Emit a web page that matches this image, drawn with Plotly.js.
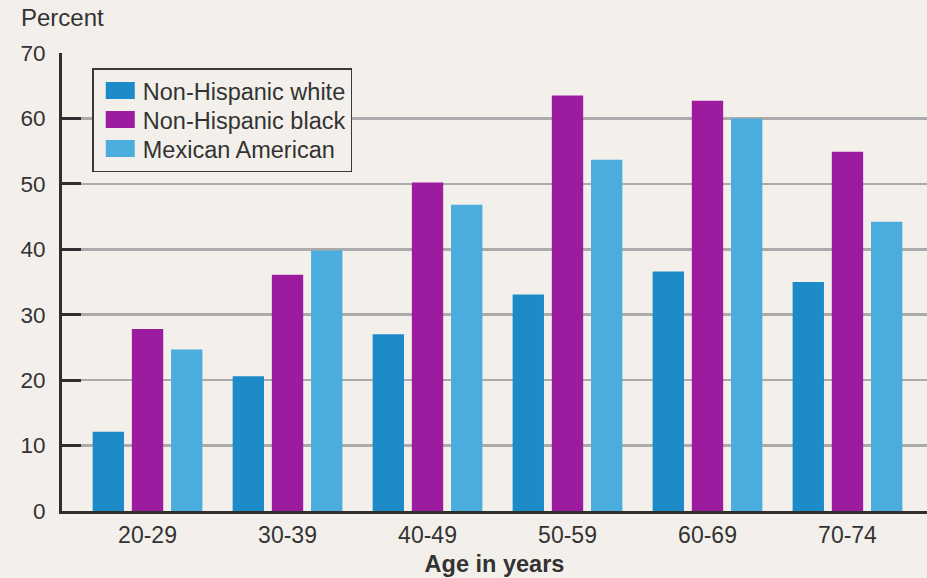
<!DOCTYPE html>
<html>
<head>
<meta charset="utf-8">
<script src="https://cdn.plot.ly/plotly-3.0.1.min.js"></script>
<style>html,body{margin:0;padding:0;background:#f3f0eb;}#chart{width:927px;height:578px;}</style>
</head>
<body>
<div id="chart"></div>
<script>
const categories = ["20-29", "30-39", "40-49", "50-59", "60-69", "70-74"];
const seriesNames = ["Non-Hispanic white", "Non-Hispanic black", "Mexican American"];
const whiteValues = [12.1, 20.6, 27.0, 33.1, 36.6, 35.0];
const blackValues = [27.8, 36.1, 50.2, 63.5, 62.7, 54.9];
const mexicanValues = [24.7, 39.8, 46.8, 53.7, 60.0, 44.2];
const yTicks = [0, 10, 20, 30, 40, 50, 60, 70];

const colors = ["#1e8bc9", "#9c1b9f", "#4badde"];
const allValues = [whiteValues, blackValues, mexicanValues];

const traces = allValues.map((vals, i) => ({
  type: "bar",
  name: seriesNames[i],
  x: categories,
  y: vals,
  marker: { color: colors[i], line: { width: 0 } },
  hoverinfo: "x+y+name"
}));

const font = "'Liberation Sans', Arial, Helvetica, sans-serif";

const layout = {
  width: 927,
  height: 578,
  paper_bgcolor: "#f3f0eb",
  plot_bgcolor: "#f3f0eb",
  margin: { l: 62, r: 0, t: 53, b: 67, pad: 0 },
  barmode: "group",
  bargap: 0.16,
  bargroupgap: 0.2,
  showlegend: true,
  legend: {
    x: 0.035, y: 0.967, xanchor: "left", yanchor: "top",
    bgcolor: "#f3f0eb",
    bordercolor: "#3a3a3a",
    borderwidth: 1.5,
    font: { family: font, size: 23.5, color: "#333333" },
    tracegroupgap: 0,
    itemwidth: 39
  },
  xaxis: {
    type: "category",
    range: [-0.611, 5.568],
    showgrid: false,
    showline: true,
    linecolor: "#2e2e2e",
    linewidth: 3,
    ticks: "",
    tickfont: { family: font, size: 23, color: "#333333" },
    ticklabelstandoff: 1,
    title: { text: "<b>Age in years</b>", font: { family: font, size: 23.5, color: "#333333" }, standoff: 9 },
    zeroline: false,
    fixedrange: true
  },
  yaxis: {
    range: [0, 70],
    tickvals: yTicks,
    ticktext: yTicks.map(String),
    showgrid: true,
    gridcolor: "#ababab",
    gridwidth: 2.5,
    showline: true,
    linecolor: "#2e2e2e",
    linewidth: 3,
    ticks: "inside",
    ticklen: 19,
    tickwidth: 3,
    tickcolor: "#2e2e2e",
    tickfont: { family: font, size: 22.5, color: "#333333" },
    ticklabelstandoff: 9,
    zeroline: false,
    fixedrange: true
  },
  annotations: [{
    text: "Percent",
    xref: "paper", yref: "paper",
    x: -0.050, y: 1.077,
    xanchor: "left", yanchor: "middle",
    showarrow: false,
    font: { family: font, size: 24, color: "#333333" }
  }]
};

Plotly.newPlot("chart", traces, layout, { displayModeBar: false, staticPlot: true }).then(gd => {
  // wider legend swatches, as in the reference
  gd.querySelectorAll(".legendpoints path").forEach(p => {
    p.setAttribute("d", "M16.5,8.5H-12.5V-8.5H16.5Z");
  });
  // tighter legend row spacing (29px) like the reference
  const items = Array.from(gd.querySelectorAll(".legend .traces"));
  const parse = t => {
    const m = /translate\(\s*([-\d.]+)[ ,]+([-\d.]+)\s*\)/.exec(t || "");
    return m ? [parseFloat(m[1]), parseFloat(m[2])] : null;
  };
  const pos = items.map(el => parse(el.getAttribute("transform")));
  if (pos.length > 1 && pos.every(p => p)) {
    const oldStep = pos[1][1] - pos[0][1];
    const step = 29;
    items.forEach((el, i) => {
      el.setAttribute("transform", "translate(" + pos[i][0] + "," + (pos[0][1] - 1 + i * step) + ")");
    });
    const shrink = (oldStep - step) * items.length - 4;
    gd.querySelectorAll(".legend rect.bg").forEach(r => {
      const h = parseFloat(r.getAttribute("height"));
      if (!isNaN(h)) r.setAttribute("height", h - shrink);
    });
  }
});
</script>
</body>
</html>
